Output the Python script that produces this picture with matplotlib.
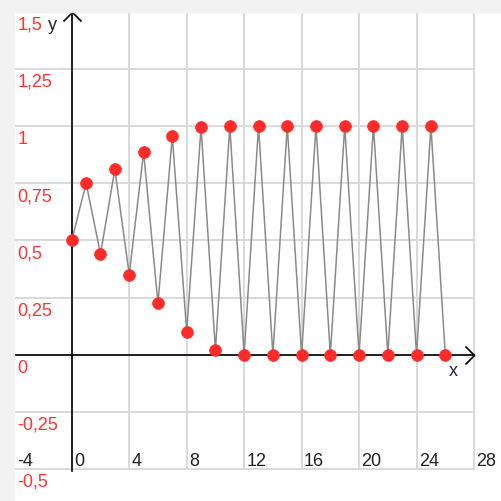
import matplotlib
matplotlib.use("Agg")
import matplotlib.pyplot as plt
from matplotlib.patches import Rectangle
from matplotlib.path import Path

# ---- data ----
x_vals = list(range(27))
y_vals = [0.50, 0.75, 0.44, 0.81, 0.35, 0.885, 0.225, 0.955, 0.10, 0.995, 0.02, 1.0, 0.0,
          1.0, 0.0, 1.0, 0.0, 1.0, 0.0, 1.0, 0.0, 1.0, 0.0, 1.0, 0.0, 1.0, 0.0]
x_ticks = [-4, 0, 4, 8, 12, 16, 20, 24, 28]
x_tick_labels = ["-4", "0", "4", "8", "12", "16", "20", "24", "28"]
y_ticks = [1.5, 1.25, 1.0, 0.75, 0.5, 0.25, 0.0, -0.25, -0.5]
y_tick_labels = ["1,5", "1,25", "1", "0,75", "0,5", "0,25", "0", "-0,25", "-0,5"]
x_range = (-4, 28)
y_range = (-0.5, 1.5)

plt.rcParams['font.family'] = ['Liberation Sans', 'DejaVu Sans']

W = H = 502
fig = plt.figure(figsize=(W / 100, H / 100), dpi=100)
fig.patch.set_facecolor('white')
# grey page strips (left and top)
fig.patches.append(Rectangle((0, 0), 14.3 / W, 1, transform=fig.transFigure,
                             color='#f2f2f2', zorder=0))
fig.patches.append(Rectangle((0, 1 - 12.7 / H), 1, 12.7 / H, transform=fig.transFigure,
                             color='#f2f2f2', zorder=0))

left, right, top, bottom = 14.3, 474.0, 12.7, 470.0
ax = fig.add_axes([left / W, (H - bottom) / H, (right - left) / W, (bottom - top) / H])
ax.set_xlim(*x_range)
ax.set_ylim(*y_range)
ax.set_facecolor('white')
for s in ax.spines.values():
    s.set_visible(False)
ax.set_xticks([])
ax.set_yticks([])

grid_c = '#d9d9d9'
for xv in x_ticks:
    ax.plot([xv, xv], list(y_range), color=grid_c, lw=1.4, zorder=1, clip_on=False,
            solid_capstyle='projecting')
for yv in y_ticks:
    ax.plot(list(x_range), [yv, yv], color=grid_c, lw=1.4, zorder=1, clip_on=False,
            solid_capstyle='projecting')

# axes lines
ax.plot([0, 0], [y_range[0] - 0.01, y_range[1]], color='black', lw=1.2, zorder=3, clip_on=False)
ax.plot([x_range[0], x_range[1]], [0, 0], color='black', lw=1.2, zorder=3, clip_on=False)

# chevron arrow heads
chev_right = Path([(-1, -1), (0, 0), (-1, 1)], [Path.MOVETO, Path.LINETO, Path.LINETO])
chev_up = Path([(-1, -1), (0, 0), (1, -1)], [Path.MOVETO, Path.LINETO, Path.LINETO])
ax.plot([x_range[1]], [0], marker=chev_right, markersize=13, markerfacecolor='none',
        markeredgecolor='black', markeredgewidth=1.2, zorder=3, clip_on=False)
ax.plot([0], [y_range[1]], marker=chev_up, markersize=13, markerfacecolor='none',
        markeredgecolor='black', markeredgewidth=1.2, zorder=3, clip_on=False)

# data
ax.plot(x_vals, y_vals, color='#8a8a8a', lw=1.1, zorder=4, clip_on=False)
ax.plot(x_vals, y_vals, linestyle='none', marker='o', markersize=8.5,
        markerfacecolor='#ff2a2a', markeredgecolor='#ff2a2a', markeredgewidth=0.5,
        zorder=5, clip_on=False)

fs = 13
# y tick labels
for yv, lab in zip(y_ticks, y_tick_labels):
    ax.annotate(lab, xy=(x_range[0], yv), xycoords='data', xytext=(3, -4),
                textcoords='offset pixels', ha='left', va='top', fontsize=fs,
                color='#ff3333', zorder=6, annotation_clip=False)
# x tick labels
for xv, lab in zip(x_ticks, x_tick_labels):
    ax.annotate(lab, xy=(xv, y_range[0]), xycoords='data', xytext=(2.5, 4),
                textcoords='offset pixels', ha='left', va='baseline', fontsize=fs,
                color='#222222', zorder=6, annotation_clip=False)

# axis names
ax.annotate('y', xy=(0, y_range[1]), xycoords='data', xytext=(-24, -4),
            textcoords='offset pixels', ha='left', va='top', fontsize=fs,
            color='#222233', zorder=6, annotation_clip=False)
ax.annotate('x', xy=(x_range[1], 0), xycoords='data', xytext=(-21, -7),
            textcoords='offset pixels', ha='center', va='top', fontsize=fs,
            color='#222233', zorder=6, annotation_clip=False)

fig.savefig('out.png', dpi=100)
